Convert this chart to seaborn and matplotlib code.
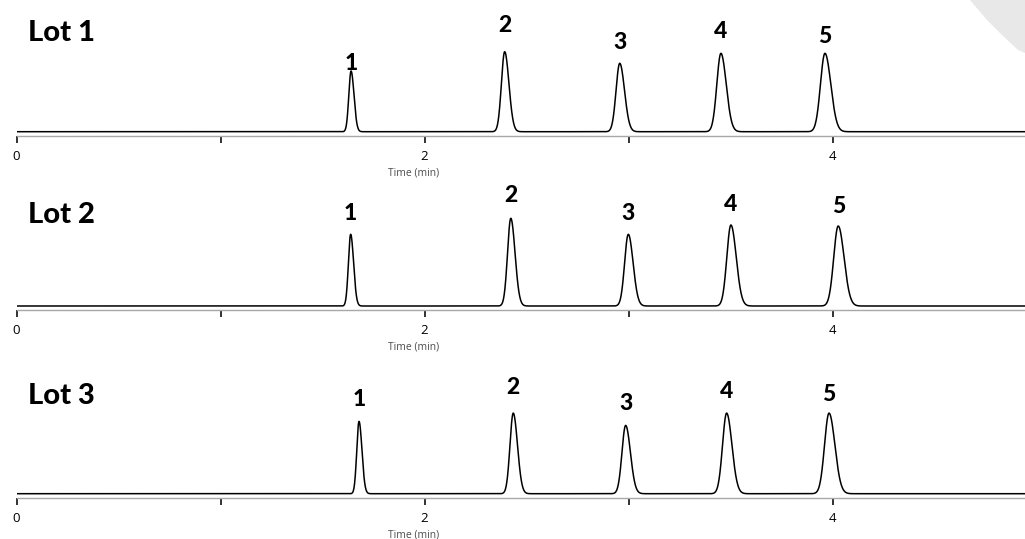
import numpy as np
import pandas as pd
import matplotlib
matplotlib.use("Agg")
import matplotlib.pyplot as plt
from matplotlib.patches import Polygon
import seaborn as sns

# Peak table for each lot: retention time (min) and peak height (signal units)
peak_ids = ["1", "2", "3", "4", "5"]
lot_names = ["Lot 1", "Lot 2", "Lot 3"]

lot1_rt = [1.640, 2.393, 2.957, 3.453, 3.963]
lot1_height = [60.7, 80.0, 68.4, 78.4, 78.4]

lot2_rt = [1.638, 2.423, 2.999, 3.502, 4.028]
lot2_height = [71.7, 87.7, 71.7, 81.0, 80.0]

lot3_rt = [1.679, 2.435, 2.986, 3.481, 3.983]
lot3_height = [72.3, 80.6, 68.3, 80.6, 80.6]

# Peak widths (sigma, min) shared by all lots
peak_sigma = [0.011, 0.016, 0.018, 0.020, 0.022]

tick_values = [0, 1, 2, 3, 4]
tick_labels = ["0", "", "2", "", "4"]

# ---- layout -------------------------------------------------------------
label_base = [  # baseline height of the peak numbers above the trace baseline
    [61.7, 99.4, 82.4, 93.4, 88.4],
    [86.0, 104.0, 85.7, 95.0, 93.4],
    [87.3, 99.3, 83.3, 96.0, 92.6],
]
lot_label_base = [91.0, 83.4, 90.0]
axis_bottom_px = [135.7, 310.0, 497.7]

W, H = 1025, 539
X0_PX, PX_PER_MIN = 16.5, 204.0
AX_H_PX = 125.0
Y_LOW = -4.0

sns.set_theme(style="white")
plt.rcParams["font.family"] = ["Open Sans", "DejaVu Sans"]
BOLD_FAMILY = ["Lato", "DejaVu Sans"]

fig = plt.figure(figsize=(W / 100, H / 100), dpi=100)
fig.patch.set_facecolor("white")

# soft grey page corner in the upper right
corner = [(970, 0), (987, 20), (1000, 33), (1018, 50), (1025, 53), (1025, 0)]
fig.patches.append(Polygon([(x / W, 1 - y / H) for x, y in corner], closed=True,
                           transform=fig.transFigure, facecolor="#e8e8e8",
                           edgecolor="none", zorder=0))

t = np.linspace(0, 5, 6001)
tail = 1.3


def trace(rts, heights):
    sig = np.zeros_like(t)
    for rt, h, s in zip(rts, heights, peak_sigma):
        sd = np.where(t < rt, s, s * tail)
        sig += h * np.exp(-0.5 * ((t - rt) / sd) ** 2)
    return sig


lots = [(lot1_rt, lot1_height), (lot2_rt, lot2_height), (lot3_rt, lot3_height)]
xmax = (W - X0_PX) / PX_PER_MIN

for i, (rts, hts) in enumerate(lots):
    bottom = 1 - axis_bottom_px[i] / H
    ax = fig.add_axes([X0_PX / W, bottom, 1 - X0_PX / W, AX_H_PX / H])
    ax.set_facecolor("none")
    df = pd.DataFrame({"time": t, "signal": trace(rts, hts)})
    sns.lineplot(data=df, x="time", y="signal", ax=ax, color="black",
                 linewidth=1.1, estimator=None)
    ax.set_xlim(0, xmax)
    ax.set_ylim(Y_LOW, AX_H_PX + Y_LOW)

    for sp in ["left", "top", "right"]:
        ax.spines[sp].set_visible(False)
    ax.spines["bottom"].set_color("#a8a8a8")
    ax.spines["bottom"].set_linewidth(1.0)

    ax.set_yticks([])
    ax.set_ylabel("")
    ax.set_xticks(tick_values)
    ax.set_xticklabels(tick_labels)
    ax.tick_params(axis="x", bottom=True, direction="out", length=5, width=1.3,
                   color="#222222", labelsize=9.5, labelcolor="black", pad=5)
    ax.set_xlabel("Time (min)", fontsize=7.5, color="#4d4d4d")
    ax.xaxis.set_label_coords((413.5 - X0_PX) / (W - X0_PX), -37.0 / AX_H_PX)
    ax.xaxis.label.set_va("center")

    for pid, rt, yb in zip(peak_ids, rts, label_base[i]):
        ax.text(rt, yb, pid, ha="center", va="baseline", fontsize=16.5,
                fontweight="black", family=BOLD_FAMILY, color="black",
                clip_on=False)
    ax.text(0.056, lot_label_base[i], lot_names[i], ha="left", va="baseline",
            fontsize=21, fontweight="black", family=BOLD_FAMILY, color="black",
            clip_on=False)

fig.savefig("out.png", dpi=100)
